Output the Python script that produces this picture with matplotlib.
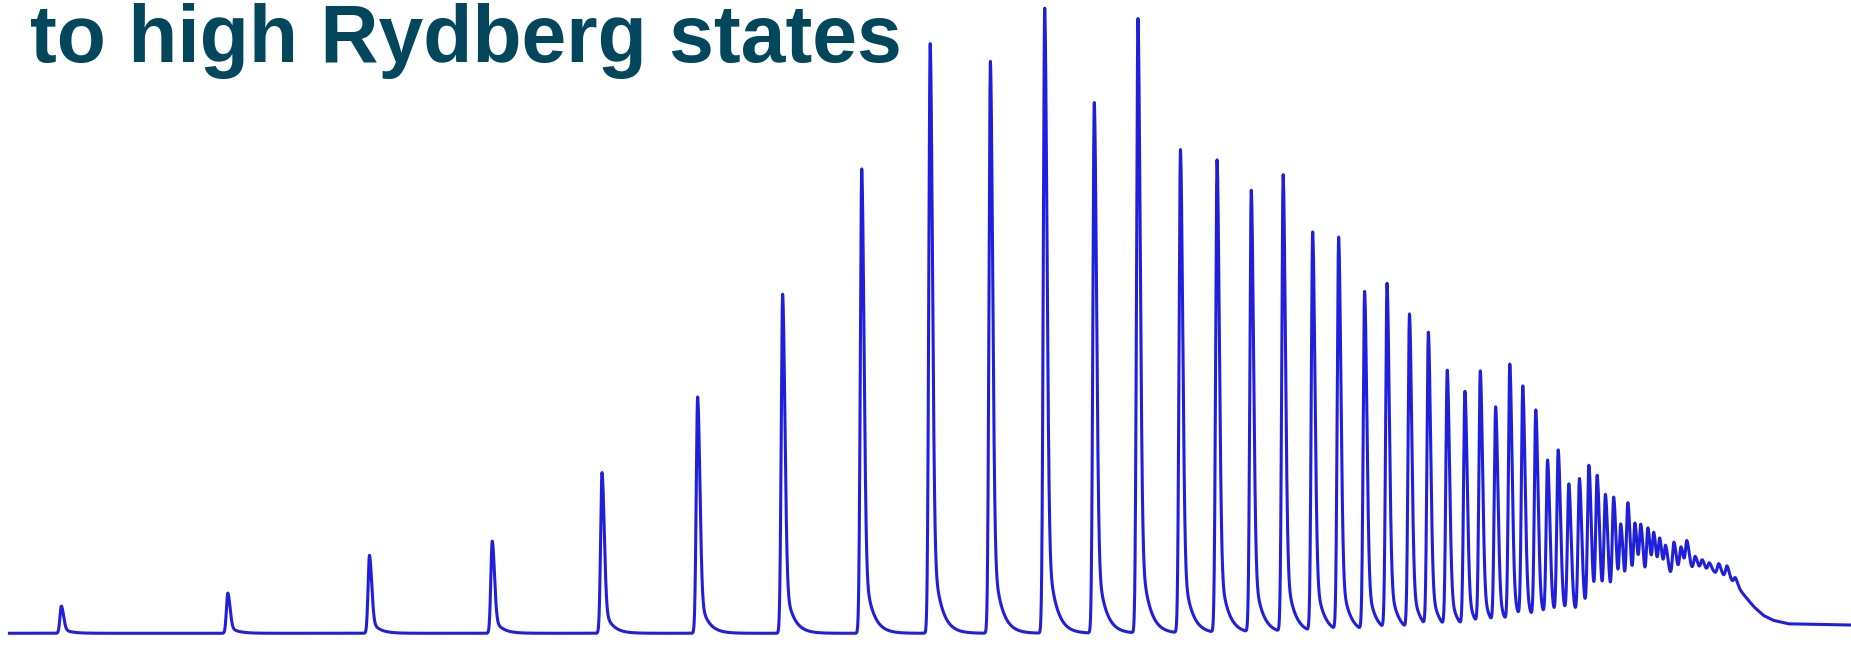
import numpy as np
import matplotlib.pyplot as plt

# peak positions (arb. units along the scan) and peak heights (arb. intensity)
peak_pos = [52, 193, 313, 417, 510, 591, 663, 730, 788, 839, 885, 927, 964,
            1000, 1031, 1060, 1087, 1112, 1134, 1156, 1175, 1194, 1210, 1226,
            1241, 1254, 1267, 1279, 1290, 1301, 1311, 1320, 1329, 1338, 1346,
            1353, 1360, 1367, 1373, 1379, 1385, 1390, 1396, 1401, 1406, 1411,
            1418, 1424, 1429, 1436, 1442, 1448, 1456, 1463, 1470]
peak_height = [23, 34, 66, 78, 136, 200, 287, 393, 499, 484, 529, 449, 520,
               409, 400, 374, 387, 338, 333, 287, 293, 267, 250, 218,
               200, 216, 185, 221, 200, 180, 137, 146, 117, 123, 133,
               122, 106, 105, 81, 101, 83, 81, 81, 76, 72, 67,
               73, 69, 74, 62, 60, 58, 58, 56, 46]

# slow background (unresolved series near the limit)
bg_pos = [0, 1300, 1340, 1370, 1400, 1425, 1440, 1452, 1462, 1470, 1478,
          1486, 1494, 1502, 1515, 1568]
bg_level = [0, 0, 6, 18, 35, 47, 51, 50, 46, 40, 31, 22, 15, 11, 8, 7]

title = "to high Rydberg states"


def line_shape(x, x0, h):
    # sharp rise, tail to the high energy side
    dx = x - x0
    left = np.exp(-0.5 * (dx / 1.2) ** 2)
    right = 0.8 * np.exp(-0.5 * (dx / 1.9) ** 2) + 0.2 * np.exp(-np.clip(dx, 0, None) / 6.5)
    return h * np.where(dx < 0, left, right)


x = np.arange(8, 1568, 0.1)
y = np.interp(x, bg_pos, bg_level)
for p, h in zip(peak_pos, peak_height):
    # the background is already under the peak, so only add the rest
    base = np.interp(p, bg_pos, bg_level)
    y = y + line_shape(x, p, max(h - base, 0))

fig = plt.figure(figsize=(18.51, 6.51), dpi=100)
ax = fig.add_axes([0, 0, 1, 1])
ax.plot(x, y, color='#2020dc', lw=2.2)
ax.set_xlim(0, 1568)
ax.set_ylim(-15, 536)
ax.axis('off')

fig.text(0.016, 0.905, title, fontsize=58, fontweight='bold',
         family='Liberation Sans', color='#03475c', va='baseline')

fig.savefig('out.png', dpi=100)
